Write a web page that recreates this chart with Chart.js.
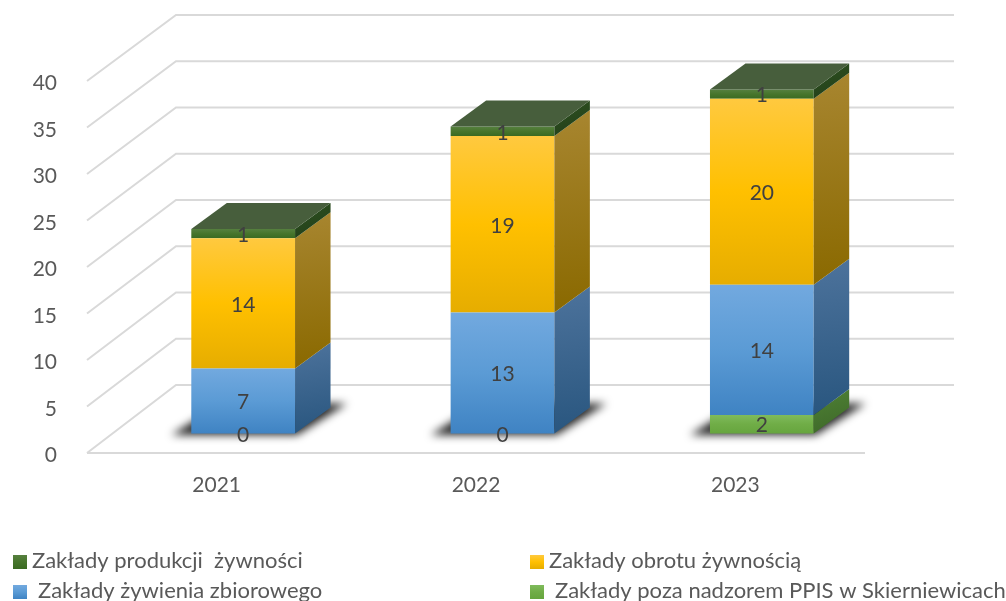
<!DOCTYPE html>
<html><head><meta charset="utf-8">
<script src="https://cdn.jsdelivr.net/npm/chart.js@4"></script>
<style>html,body{margin:0;padding:0;background:#fff}#w{width:1006px;height:601px;position:relative}</style>
</head><body><div id="w"><canvas id="c" width="1006" height="601"></canvas></div>
<script>
const categories = ['2021','2022','2023'];
const seriesNames = ['Zakłady poza nadzorem PPIS w Skierniewicach','Zakłady żywienia zbiorowego','Zakłady obrotu żywnością','Zakłady produkcji  żywności'];
const poza = [0,0,2];
const zywienie = [7,13,14];
const obrot = [14,19,20];
const produkcja = [1,1,1];
const yTicks = [0,5,10,15,20,25,30,35,40];
const FONT = 'Lato, Carlito, sans-serif';
const faces = [
 {front:['#7fbb5c','#70ad47','#66a53e'], side:['#4f8235','#3f6a2a']},
 {front:['#72a9df','#5b9bd5','#3f83c3'], side:['#4d739c','#29567f']},
 {front:['#ffc93f','#ffc000','#e6ad00'], side:['#a88630','#8a6900']},
 {front:['#56803f','#47752c','#3a6a22'], side:['#2f5220','#23401a']}
];
const topFace = '#475e3c';
const BAR_DX = 26.5, BAR_DY = -19.5, DEPTH_X = 35.5, DEPTH_Y = -26;
const WALL_DX = 89, WALL_TOP = 15, WALL_BOTTOM = 385;

function grad(ctx,x0,y0,x1,y1,cols){
  const g = ctx.createLinearGradient(x0,y0,x1,y1);
  cols.forEach((c,i)=>g.addColorStop(i/(cols.length-1),c));
  return g;
}
const arrays = [poza,zywienie,obrot,produkcja];
function frontFill(c){
  const chart = c.chart, y = chart.scales.y;
  if(!y || y.top===undefined) return faces[c.datasetIndex].front[1];
  let cum = 0;
  for(let k=0;k<c.datasetIndex;k++) cum += arrays[k][c.dataIndex];
  const v = arrays[c.datasetIndex][c.dataIndex];
  return grad(chart.ctx,0,y.getPixelForValue(cum+v),0,y.getPixelForValue(cum),faces[c.datasetIndex].front);
}
function shiftLabels(s){
  if(s._shifted) return;
  s._shifted = true;
  const f = s.drawLabels;
  s.drawLabels = function(a){ s.ctx.save(); s.ctx.translate(0,2.5); f.call(s,a); s.ctx.restore(); };
}
const scene = {
  id:'scene',
  beforeDatasetsDraw(chart){
    const {ctx,scales:{x,y}} = chart;
    ctx.save();
    ctx.strokeStyle = '#d9d9d9'; ctx.lineWidth = 2;
    const x0 = x.left, x1 = x.right;
    const y0 = y.getPixelForValue(0), y40 = y.getPixelForValue(40);
    yTicks.forEach(v=>{
      const p = y.getPixelForValue(v);
      const by = WALL_BOTTOM + (p-y0)*(WALL_BOTTOM-WALL_TOP)/(y0-y40);
      ctx.beginPath();
      ctx.moveTo(x0,p); ctx.lineTo(x0+WALL_DX,by); ctx.lineTo(x1+WALL_DX,by);
      ctx.stroke();
    });
    ctx.beginPath(); ctx.moveTo(x0,y0); ctx.lineTo(x1,y0); ctx.stroke();
    const meta = chart.getDatasetMeta(0);
    ctx.filter = 'blur(4px)';
    ctx.fillStyle = 'rgba(0,0,0,0.85)';
    meta.data.forEach(el=>{
      const l = el.x-el.width/2+BAR_DX, r = el.x+el.width/2+BAR_DX, b = el.base+BAR_DY;
      ctx.beginPath();
      ctx.moveTo(l-20,b+1.5); ctx.lineTo(r+2,b+1.5); ctx.lineTo(r+52,b-30); ctx.lineTo(l+30,b-30);
      ctx.closePath(); ctx.fill();
    });
    ctx.filter = 'none';
    ctx.restore();
    ctx.save();
    ctx.translate(BAR_DX,BAR_DY);
  },
  afterDatasetsDraw(chart){
    const {ctx} = chart;
    const metas = chart.data.datasets.map((d,i)=>chart.getDatasetMeta(i));
    metas.forEach((m,di)=>{
      m.data.forEach(el=>{
        const h = el.base-el.y;
        if(h<=0.5) return;
        const r = el.x+el.width/2;
        ctx.fillStyle = grad(ctx,r,el.y+DEPTH_Y,r+DEPTH_X*0.4,el.base,faces[di].side);
        ctx.beginPath();
        ctx.moveTo(r,el.y); ctx.lineTo(r+DEPTH_X,el.y+DEPTH_Y); ctx.lineTo(r+DEPTH_X,el.base+DEPTH_Y); ctx.lineTo(r,el.base);
        ctx.closePath(); ctx.fill();
      });
    });
    metas[metas.length-1].data.forEach(el=>{
      const l = el.x-el.width/2, r = el.x+el.width/2;
      ctx.fillStyle = topFace;
      ctx.beginPath();
      ctx.moveTo(l,el.y); ctx.lineTo(r,el.y); ctx.lineTo(r+DEPTH_X,el.y+DEPTH_Y); ctx.lineTo(l+DEPTH_X,el.y+DEPTH_Y);
      ctx.closePath(); ctx.fill();
    });
    ctx.fillStyle = '#404040';
    ctx.font = '21px '+FONT;
    ctx.textAlign = 'center'; ctx.textBaseline = 'middle';
    metas.forEach((m,di)=>{
      m.data.forEach((el,i)=>{
        ctx.fillText(String(arrays[di][i]),el.x,(el.y+el.base)/2+1.5);
      });
    });
    ctx.restore();
    ctx.save();
    ctx.font = '22px '+FONT;
    ctx.textAlign = 'left'; ctx.textBaseline = 'alphabetic';
    const leg = [[3,13,32,555,568],[2,530,549,555,568],[1,13,38,585,598],[0,530,555,585,598]];
    leg.forEach(([s,mx,tx,my,by])=>{
      ctx.fillStyle = grad(ctx,0,my,0,my+14,faces[s].front);
      ctx.fillRect(mx,my,14,14);
      ctx.fillStyle = '#595959';
      ctx.fillText(seriesNames[s],tx,by);
    });
    ctx.restore();
  }
};
new Chart(document.getElementById('c'),{
  type:'bar',
  data:{labels:categories,datasets:arrays.map((a,i)=>({
    label:seriesNames[i],data:a,stack:'s',backgroundColor:frontFill,borderWidth:0,
    barPercentage:0.4,categoryPercentage:1,clip:false
  }))},
  options:{
    responsive:false,animation:false,
    layout:{padding:{top:81,right:141,left:0,bottom:0}},
    plugins:{legend:{display:false},tooltip:{enabled:false}},
    scales:{
      x:{stacked:true,grid:{display:false},border:{display:false},
         afterFit:s=>{s.height=148},
         ticks:{color:'#595959',font:{family:FONT,size:21},padding:12,maxRotation:0}},
      y:{stacked:true,min:0,max:40,grid:{display:false},border:{display:false},
         afterFit:s=>{s.width=87},
         afterUpdate:shiftLabels,
         afterBuildTicks:s=>{s.ticks=yTicks.map(v=>({value:v}))},
         ticks:{color:'#595959',font:{family:FONT,size:21},padding:22}}
    }
  },
  plugins:[scene]
});
</script></body></html>
